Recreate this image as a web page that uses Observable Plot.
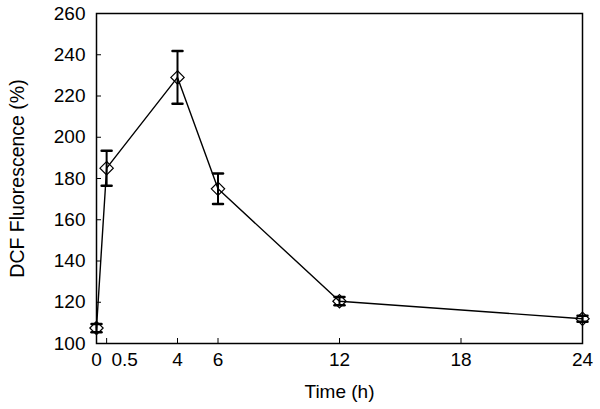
<!DOCTYPE html>
<html>
<head>
<meta charset="utf-8">
<script src="https://cdn.jsdelivr.net/npm/d3@7"></script>
<script src="https://cdn.jsdelivr.net/npm/@observablehq/plot@0.6"></script>
<style>
  html, body { margin: 0; padding: 0; background: #fff; }
  #chart svg { display: block; }
</style>
</head>
<body>
<div id="chart"></div>
<script>
const times = [0, 0.5, 4, 6, 12, 24];
const fluorescence = [107.5, 185, 229, 175, 120.5, 112];
const errors = [2, 8.5, 12.8, 7.4, 2, 1.5];
const xTicks = [0, 0.5, 4, 6, 12, 18, 24];
const yTicks = [100, 120, 140, 160, 180, 200, 220, 240, 260];

const data = times.map((t, i) => ({t, v: fluorescence[i], lo: fluorescence[i] - errors[i], hi: fluorescence[i] + errors[i]}));

const capShape = {draw(context, l) { context.moveTo(0, 0); context.lineTo(0, -l); }};

const font = "Liberation Sans, Arial, sans-serif";

const chart = Plot.plot({
  width: 600,
  height: 409,
  marginLeft: 96,
  marginRight: 18,
  marginTop: 13,
  marginBottom: 66,
  style: {fontFamily: font, fontSize: "19px", color: "#000", background: "#fff"},
  x: {domain: [0, 24]},
  y: {domain: [100, 260]},
  marks: [
    Plot.frame({stroke: "#000", strokeWidth: 1.5}),
    Plot.axisX({ticks: xTicks, tickFormat: d => d === 0.5 ? "" : String(d), tickSize: -5, tickPadding: 14, label: null, fontSize: 19}),
    Plot.axisX({ticks: [0.5], tickFormat: d => String(d), tickSize: 0, tickPadding: 9, dx: 18, label: null, fontSize: 19}),
    Plot.axisY({ticks: yTicks, tickSize: -5, tickPadding: 16, label: null, fontSize: 19}),
    Plot.text(["Time (h)"], {frameAnchor: "bottom", dy: 54, fontSize: 19, fontFamily: font}),
    Plot.text(["DCF Fluorescence (%)"], {frameAnchor: "left", textAnchor: "middle", dx: -79, rotate: -90, fontSize: 19.5, fontFamily: font}),
    Plot.line(data, {x: "t", y: "v", stroke: "#000", strokeWidth: 1.4}),
    Plot.ruleX(data, {x: "t", y1: "lo", y2: "hi", stroke: "#000", strokeWidth: 2}),
    Plot.vector(data, {x: "t", y: "lo", length: 10, rotate: 90, anchor: "middle", shape: capShape, stroke: "#000", strokeWidth: 2.5}),
    Plot.vector(data, {x: "t", y: "hi", length: 10, rotate: 90, anchor: "middle", shape: capShape, stroke: "#000", strokeWidth: 2.5}),
    Plot.dot(data, {x: "t", y: "v", symbol: "diamond2", r: 6, stroke: "#000", strokeWidth: 1.2, fill: "none"})
  ]
});
document.getElementById("chart").appendChild(chart);
</script>
</body>
</html>
